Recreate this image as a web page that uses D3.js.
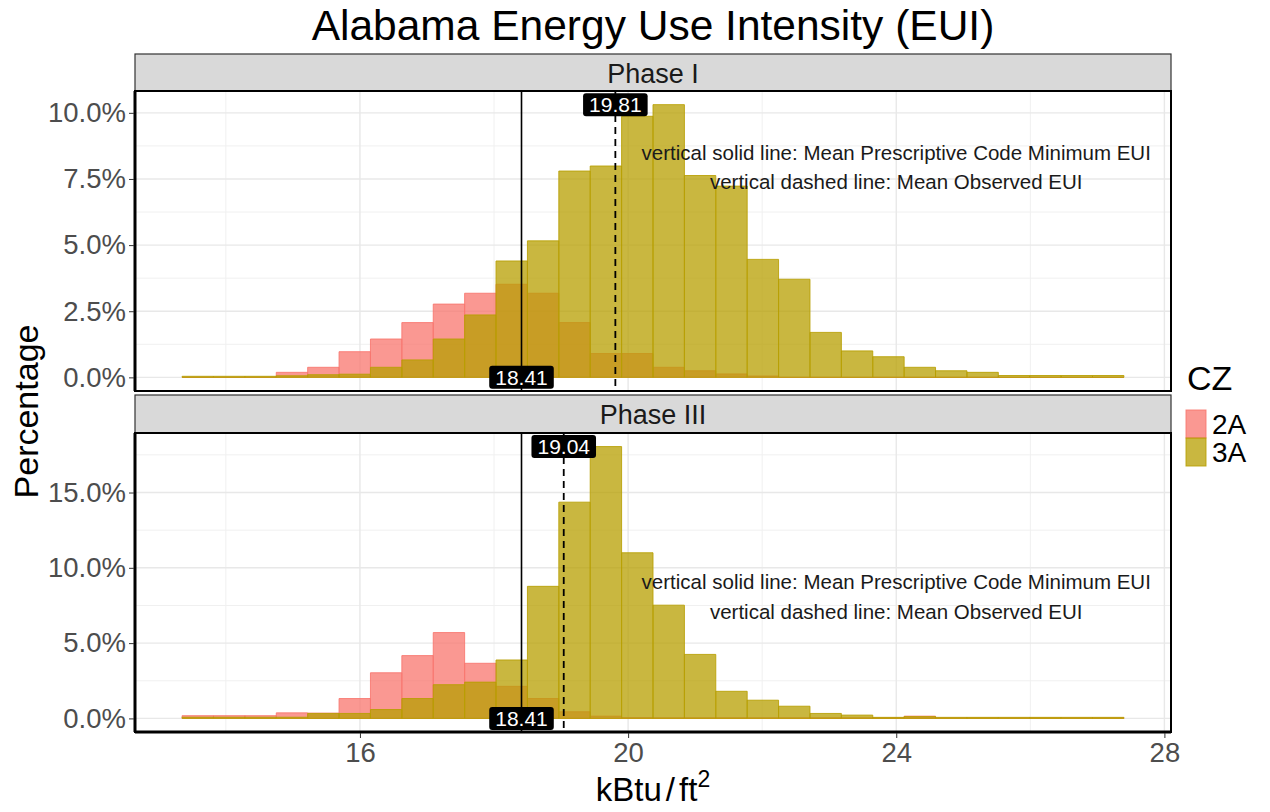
<!DOCTYPE html>
<html>
<head>
<meta charset="utf-8">
<script src="https://cdn.jsdelivr.net/npm/d3@7"></script>
<style>
  html, body { margin: 0; background: #fff; }
  svg { display: block; font-family: "Liberation Sans", Arial, sans-serif; }
</style>
</head>
<body>
<svg id="chart" width="1270" height="812"></svg>
<script>
// ---- data -------------------------------------------------------------
const zones = ["2A", "3A"];
const zoneColors = ["#F8766D", "#B79F00"];
const phases = ["Phase I", "Phase III"];

// histogram bins (kBtu/ft2)
const binStart = 13.347;
const binWidth = 0.4683;

// share of buildings per bin, in percent
const phase1_2A = [0, 0, 0, 0.19, 0.38, 0.97, 1.45, 2.07, 2.77, 3.18,
                   3.52, 3.18, 2.07, 0.90, 0.90, 0.38, 0.25, 0.13, 0.05, 0,
                   0, 0, 0, 0, 0, 0, 0, 0, 0, 0];
const phase1_3A = [0.04, 0.04, 0.04, 0.06, 0.10, 0.12, 0.38, 0.66, 1.45, 2.36,
                   4.40, 5.16, 7.80, 7.99, 9.87, 10.31, 7.63, 7.23, 4.46, 3.71,
                   1.70, 1.00, 0.78, 0.38, 0.25, 0.19, 0.07, 0.07, 0.07, 0.07];
const phase3_2A = [0.18, 0.18, 0.18, 0.37, 0.35, 1.32, 3.03, 4.17, 5.70, 3.66,
                   2.13, 1.32, 0.44, 0.15, 0.05, 0.04, 0.04, 0.04, 0.04, 0.04,
                   0.04, 0.04, 0.04, 0.15, 0.04, 0.04, 0.04, 0.04, 0.04, 0.04];
const phase3_3A = [0.08, 0.08, 0.08, 0.08, 0.33, 0.33, 0.59, 1.32, 2.24, 2.41,
                   3.88, 8.77, 14.36, 18.05, 11.00, 7.52, 4.25, 1.80, 1.21, 0.81,
                   0.33, 0.22, 0.07, 0.12, 0.07, 0.07, 0.07, 0.07, 0.07, 0.07];

// mean EUI reference lines per phase
const codeMeanEUI = [18.41, 18.41];
const observedMeanEUI = [19.81, 19.04];

// axis ticks
const xTicks = [16, 20, 24, 28];
const phase1_yTicks = [0, 2.5, 5, 7.5, 10];
const phase3_yTicks = [0, 5, 10, 15];

// explanatory note (x in kBtu/ft2, y in percent)
const noteLines = ["vertical solid line: Mean Prescriptive Code Minimum EUI",
                   "vertical dashed line: Mean Observed EUI"];
const noteX = 24;
const phase1_noteY = [8.5, 7.4];
const phase3_noteY = [9.1, 7.05];

// ---- layout -----------------------------------------------------------
const svg = d3.select("#chart");
const plotLeft = 135, plotRight = 1171;
const panels = [
  { name: phases[0], strip: [54, 91], box: [91, 391], series: [phase1_2A, phase1_3A],
    ticks: phase1_yTicks, note: phase1_noteY },
  { name: phases[1], strip: [395, 433], box: [433, 732], series: [phase3_2A, phase3_3A],
    ticks: phase3_yTicks, note: phase3_noteY }
];
const alpha = 0.75;

const nBins = phase1_3A.length;
const binEdges = d3.range(nBins).map(i => [binStart + i * binWidth, binStart + (i + 1) * binWidth]);
const xLo = binStart, xHi = binStart + nBins * binWidth;
const xPad = (xHi - xLo) * 0.05;
const x = d3.scaleLinear().domain([xLo - xPad, xHi + xPad]).range([plotLeft, plotRight]);

const pct = d3.format(".1%");

// title
svg.append("text")
  .attr("x", (plotLeft + plotRight) / 2).attr("y", 40)
  .attr("text-anchor", "middle")
  .attr("font-size", 42.5).attr("fill", "#000")
  .text("Alabama Energy Use Intensity (EUI)");

panels.forEach((p, pi) => {
  const [top, bottom] = p.box;
  const yMax = d3.max(p.series.flat());
  const y = d3.scaleLinear().domain([-0.05 * yMax, yMax * 1.05]).range([bottom, top]);
  const g = svg.append("g");

  // strip
  g.append("rect")
    .attr("x", plotLeft).attr("y", p.strip[0])
    .attr("width", plotRight - plotLeft).attr("height", p.strip[1] - p.strip[0])
    .attr("fill", "#d9d9d9").attr("stroke", "#333").attr("stroke-width", 1.2);
  g.append("text")
    .attr("x", (plotLeft + plotRight) / 2).attr("y", (p.strip[0] + p.strip[1]) / 2 + 10)
    .attr("text-anchor", "middle").attr("font-size", 27).attr("fill", "#1a1a1a")
    .text(p.name);

  // panel background and grid
  g.append("rect").attr("x", plotLeft).attr("y", top)
    .attr("width", plotRight - plotLeft).attr("height", bottom - top).attr("fill", "#fff");

  const step = p.ticks[1] - p.ticks[0];
  const yMinor = d3.range(-1, p.ticks.length + 1).map(i => p.ticks[0] + (i + 0.5) * step)
    .filter(v => v > y.domain()[0] && v < y.domain()[1]);
  const xStep = xTicks[1] - xTicks[0];
  const xMinor = d3.range(-2, xTicks.length + 1).map(i => xTicks[0] + (i + 0.5) * xStep)
    .filter(v => v > x.domain()[0] && v < x.domain()[1]);

  g.selectAll(".ymin").data(yMinor).join("line")
    .attr("x1", plotLeft).attr("x2", plotRight)
    .attr("y1", d => y(d)).attr("y2", d => y(d))
    .attr("stroke", "#f0f0f0").attr("stroke-width", 1);
  g.selectAll(".xmin").data(xMinor).join("line")
    .attr("y1", top).attr("y2", bottom)
    .attr("x1", d => x(d)).attr("x2", d => x(d))
    .attr("stroke", "#f0f0f0").attr("stroke-width", 1);
  g.selectAll(".ymaj").data(p.ticks).join("line")
    .attr("x1", plotLeft).attr("x2", plotRight)
    .attr("y1", d => y(d)).attr("y2", d => y(d))
    .attr("stroke", "#e8e8e8").attr("stroke-width", 1.4);
  g.selectAll(".xmaj").data(xTicks).join("line")
    .attr("y1", top).attr("y2", bottom)
    .attr("x1", d => x(d)).attr("x2", d => x(d))
    .attr("stroke", "#e8e8e8").attr("stroke-width", 1.4);

  // histogram bars, 2A first then 3A on top
  p.series.forEach((vals, zi) => {
    g.append("g").selectAll("path").data(vals).join("path")
      .attr("d", (v, i) => {
        const x0 = x(binEdges[i][0]), x1 = x(binEdges[i][1]);
        return `M${x0},${y(0)}V${y(v)}H${x1}V${y(0)}Z`;
      })
      .attr("fill", zoneColors[zi]).attr("fill-opacity", alpha)
      .attr("stroke", zoneColors[zi]).attr("stroke-opacity", 0.85)
      .attr("stroke-width", 1);
  });

  // reference lines
  g.append("line")
    .attr("x1", x(codeMeanEUI[pi])).attr("x2", x(codeMeanEUI[pi]))
    .attr("y1", top).attr("y2", bottom)
    .attr("stroke", "#000").attr("stroke-width", 1.6);
  g.append("line")
    .attr("x1", x(observedMeanEUI[pi])).attr("x2", x(observedMeanEUI[pi]))
    .attr("y1", top).attr("y2", bottom)
    .attr("stroke", "#000").attr("stroke-width", 1.8)
    .attr("stroke-dasharray", "7,5");

  // note
  noteLines.forEach((t, li) => {
    g.append("text")
      .attr("x", x(noteX)).attr("y", y(p.note[li]))
      .attr("dy", "0.35em")
      .attr("text-anchor", "middle").attr("font-size", 20.5).attr("fill", "#1a1a1a")
      .text(t);
  });

  // value labels
  const labels = [
    { v: observedMeanEUI[pi], yv: yMax },
    { v: codeMeanEUI[pi], yv: 0 }
  ];
  labels.forEach(l => {
    const lg = g.append("g");
    const txt = lg.append("text")
      .attr("x", x(l.v)).attr("y", y(l.yv)).attr("dy", "0.36em")
      .attr("text-anchor", "middle").attr("font-size", 21).attr("fill", "#fff")
      .text(l.v.toFixed(2));
    const w = txt.node().getComputedTextLength();
    lg.insert("rect", "text")
      .attr("x", x(l.v) - w / 2 - 6).attr("y", y(l.yv) - 11.5)
      .attr("width", w + 12).attr("height", 23)
      .attr("rx", 3).attr("fill", "#000");
  });

  // panel border
  g.append("rect").attr("x", plotLeft).attr("y", top)
    .attr("width", plotRight - plotLeft).attr("height", bottom - top)
    .attr("fill", "none").attr("stroke", "#000").attr("stroke-width", 2);
  g.append("line").attr("x1", plotLeft).attr("x2", plotLeft)
    .attr("y1", top).attr("y2", bottom)
    .attr("stroke", "#000").attr("stroke-width", 3);

  // y axis
  const yAxis = d3.axisLeft(y).tickValues(p.ticks).tickFormat(d => pct(d / 100)).tickSize(5).tickPadding(3);
  const ya = svg.append("g").attr("transform", `translate(${plotLeft - 1},0)`).call(yAxis);
  ya.select(".domain").remove();
  ya.selectAll(".tick line").attr("stroke", "#333");
  ya.selectAll(".tick text").attr("font-size", 27.5).attr("fill", "#4d4d4d")
    .attr("font-family", "Liberation Sans, Arial, sans-serif");

  if (pi === panels.length - 1) {
    g.append("line").attr("x1", plotLeft).attr("x2", plotRight)
      .attr("y1", bottom).attr("y2", bottom)
      .attr("stroke", "#000").attr("stroke-width", 3);
    const xAxis = d3.axisBottom(x).tickValues(xTicks).tickFormat(d3.format("d")).tickSize(5).tickPadding(4);
    const xa = svg.append("g").attr("transform", `translate(0,${bottom + 1})`).call(xAxis);
    xa.select(".domain").remove();
    xa.selectAll(".tick line").attr("stroke", "#333");
    xa.selectAll(".tick text").attr("font-size", 27.5).attr("fill", "#4d4d4d")
      .attr("font-family", "Liberation Sans, Arial, sans-serif");
  }
});

// axis titles
svg.append("text")
  .attr("transform", `translate(38,${(91 + 732) / 2}) rotate(-90)`)
  .attr("text-anchor", "middle").attr("font-size", 34).attr("fill", "#000")
  .text("Percentage");

const xt = svg.append("text")
  .attr("x", (plotLeft + plotRight) / 2).attr("y", 801)
  .attr("text-anchor", "middle").attr("font-size", 33).attr("fill", "#000");
xt.append("tspan").text("kBtu");
xt.append("tspan").attr("dx", 4).text("/");
xt.append("tspan").attr("dx", 4).text("ft");
xt.append("tspan").attr("font-size", 23).attr("dy", -14).text("2");

// legend
const legend = svg.append("g").attr("transform", "translate(1186,0)");
legend.append("text").attr("x", 1).attr("y", 390)
  .attr("font-size", 34).attr("fill", "#000").text("CZ");
zones.forEach((z, i) => {
  legend.append("rect")
    .attr("x", 0).attr("y", 410 + i * 28).attr("width", 20).attr("height", 28)
    .attr("fill", zoneColors[i]).attr("fill-opacity", alpha)
    .attr("stroke", zoneColors[i]).attr("stroke-opacity", 0.85);
  legend.append("text")
    .attr("x", 26).attr("y", 424 + i * 28).attr("dy", "0.36em")
    .attr("font-size", 28).attr("fill", "#000").text(z);
});
</script>
</body>
</html>
